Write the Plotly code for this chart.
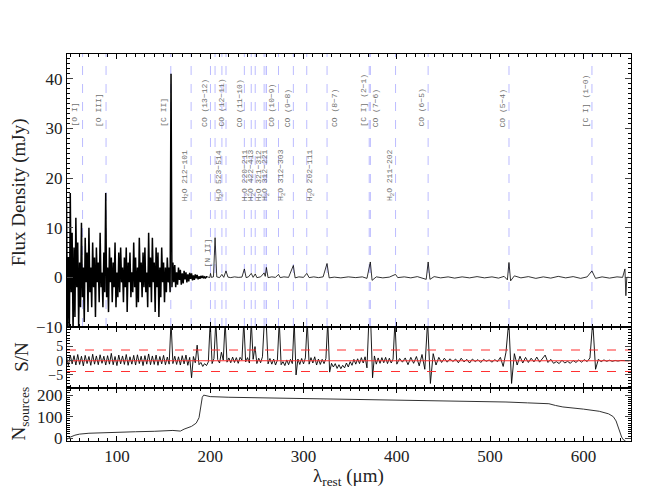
import numpy as np
import plotly.graph_objects as go
from plotly.subplots import make_subplots

# stacked spectrum: noisy short-wavelength part, sampled every 1 um from 46 um
noisy_start = 46
noisy_step = 1
flux_noisy = [
    15, -10, 4, -12, 17, -3, 9, -11, 6, -8,
    12, -2, 7, -10, 3, -6, 11, -4, 2, -9,
    8, -1, 5, -7, 10, -3, 2, -6, 7, -2,
    4, -8, 6, -1, 3, -5, 9, -2, 1, -6,
    5, -3, 17, -4, 2, -7, 6, -1, 4, -5,
    3, -2, 7, -6, 1, -4, 5, -3, 6, -1,
    2, -5, 4, -2, 6, -7, 3, -1, 5, -4,
    1, -3, 7, -2, 4, -6, 2, -5, 8, -1,
    3, -4, 5, -2, 6, -3, 1, -6, 9, -2,
    4, -5, 8, -1, 3, -7, 6, -2, 5, -8,
    2, -4, 6, -1, 3, -5, 2, -3, 4, -1,
    2, -3, 41, -2, 3, -1, 2.5, -2, 1, -1.5,
    2, -0.5, 1.5, -1.5, 0.8, -1.2, 1.3, -0.4, 1.0, -1.0,
    0.6, -0.8, 0.9, -0.3, 0.8, -0.6, 0.4, -0.5, 0.6, -0.2,
    0.5, -0.4, 0.2, -0.3, 0.3, -0.1, 0.3, -0.2, 0.1, -0.1,
    0.1,
]

# long-wavelength part (flat continuum with lines)
wl_flat = [197, 199.5, 200.3, 201.2, 203.5, 205.2, 207, 210, 212.5, 214.5,
           216.9, 219, 222, 226, 230, 234, 236.6, 238.5, 241, 244.0,
           246, 248.3, 250, 254, 257.8, 259.0, 260.2, 262, 266, 270,
           273.2, 275, 279, 284, 289.1, 291, 295, 300, 303.5, 306,
           311, 316, 321, 325.2, 327.5, 333, 340, 348, 356, 363,
           368, 370.4, 371.6, 373.5, 378, 385, 392, 398.6, 401, 408,
           415, 422, 428, 431.5, 433.6, 435.5, 440, 447, 455, 462,
           470, 478, 486, 494, 502, 509, 515, 518.5, 520.2, 522,
           526, 533, 541, 549, 557, 565, 573, 581, 589, 597,
           604, 609.1, 613, 620, 628, 636, 642, 644.5, 645.5, 646.5,
           649]
flux_flat = [0.1, -0.05, 0.8, 0.0, 0.1, 8.0, 0.1, -0.05, 0.6, 0.0,
             1.3, 0.05, -0.05, 0.1, 0.0, 0.05, 1.7, -0.05, 0.1, 0.8,
             0.0, 0.7, -0.05, 0.1, 0.9, 0.2, 2.0, -0.05, 0.1, 0.0,
             0.6, -0.05, 0.1, 0.0, 2.4, -0.1, 0.1, 0.0, 0.8, -0.05,
             0.1, -0.05, 0.1, 2.8, -0.1, 0.05, -0.1, 0.1, -0.05, 0.1,
             -0.2, 2.2, 3.1, -0.6, 0.1, -0.1, 0.05, 0.6, -0.05, 0.1,
             -0.1, 0.15, -0.1, -0.4, 3.1, -0.4, 0.15, -0.1, 0.1, -0.15,
             0.1, -0.1, 0.15, -0.1, 0.1, -0.15, 0.2, -0.5, 3.0, -0.7,
             0.3, -0.1, 0.15, -0.2, 0.1, -0.15, 0.2, -0.1, 0.15, -0.2,
             0.1, 1.3, -0.2, 0.1, -0.15, 0.1, 0.0, 1.7, -3.7, 0.0,
             0.0]

# S/N: every 2 um from 46 to 398, then every 3 um from 400 to 649
sn_a = [
    1.4, -1.7, 2.0, -1.1, 1.8, -1.5, 2.2, -1.3, 1.6, -1.8,
    1.9, -1.0, 1.5, -1.6, 2.3, -1.2, 1.7, -1.4, 2.1, -0.9,
    1.6, -1.5, 1.8, -1.2, 2.6, -1.4, 1.5, -1.7, 2.0, -1.1,
    1.7, -1.3, 2.2, -1.6, 1.4, -1.2, 1.9, -1.5, 2.1, -1.0,
    1.6, -1.7, 1.8, -1.2, 2.4, -1.4, 1.7, -1.3, 2.0, -1.6,
    1.5, -1.1, 1.9, -1.4, 1.3, -1.2, 14.0, -1.0, 1.6, -1.3,
    1.4, -1.5, 1.8, -1.1, 2.0, -1.6, 1.2, -6.0, 1.5, -0.7,
    5.5, -1.4, -0.6, -2.0, -1.0, -1.7, -0.4, 14.0, -1.0, 0.8,
    14.0, 0.4, -0.8, 3.0, 0.2, 14.0, -0.5, 1.0, -0.7, 1.3,
    -0.6, 1.1, -0.9, 1.2, 0.2, 14.0, -0.4, 1.1, -0.8, 14.0,
    0.5, 5.0, -1.0, 0.9, -0.7, 1.4, 14.0, 14.0, -1.1, 0.8,
    -1.2, 0.6, -1.5, 0.2, 14.0, -1.4, -0.3, -1.7, 0.3, -1.4,
    0.5, -1.0, 14.0, -5.0, 0.6, -1.3, 0.8, -1.1, 1.0, 14.0,
    -1.2, 1.1, -0.8, 1.4, -1.5, 0.6, -1.3, 0.5, -1.0, 0.8,
    14.0, -4.0, -0.9, -2.2, -1.0, -2.7, -1.4, -2.8, -1.6, -2.5,
    -0.8, -2.2, -0.3, -1.6, 0.5, -1.2, 0.7, -1.0, 1.1, -0.8,
    1.4, -2.5, 14.0, 14.0, -6.0, 1.7, -1.2, 1.0, -0.9, 1.1,
    -0.7, 1.2, -1.0, 0.9, -0.8, 0.6, 14.0,
]
sn_b = [
    -1.2, 0.8, -0.5, 1.0, -1.4, 1.2, -0.9, 1.5, -1.8, 2.2,
    -3.0, 14.0, -8.0, 2.5, -1.5, 1.2, -0.6, 0.9, -0.5, 0.7,
    -0.3, 0.6, -0.7, 0.9, -0.4, 0.5, -0.8, 0.6, -0.3, 0.4,
    -0.6, 0.5, -0.2, 0.3, -0.5, 0.4, -0.3, 1.2, -2.0, 3.0,
    14.0, -8.0, 2.5, -1.5, 1.6, -0.8, 1.2, -0.6, 0.9, -0.4,
    1.3, -0.5, 0.8, 2.0, -0.6, 0.5, -0.9, -0.3, -1.0, 0.2,
    -0.8, -0.2, -0.9, 0.1, -0.6, 0.3, -0.5, 0.4, -0.3, 1.0,
    14.0, -3.0, 0.5, -0.3, 0.3, -0.2, 0.2, -0.2, 0.1, -0.1,
    0.1, 0.0, 0.0, 0.0,
]
sn_cut = 3.8

# number of stacked sources
wl_nsrc = [46.5, 50, 55, 60, 70, 80, 100, 120, 140, 150, 160, 168, 172, 180, 185,
           188, 190, 191.5, 193, 196, 200, 220, 260, 300, 350, 400, 445, 480, 517,
           540, 563, 570, 578, 600, 617, 627, 632, 635, 637, 639, 641, 643, 645]
n_src = [-5, 5, 14, 19, 23, 25, 28, 30, 32, 35, 36, 33, 42, 55, 70,
         95, 140, 190, 200, 198, 193, 190, 187, 184, 181, 179, 176, 172, 168,
         164, 160, 152, 145, 135, 125, 113, 100, 80, 55, 25, 5, -8, -12]

# line identifications
line_wl = [63.18, 88.36, 157.74, 179.53, 200.27, 205.18, 212.53, 216.93, 236.61,
           243.97, 248.25, 257.79, 259.98, 260.24, 273.19, 289.12, 303.46, 325.23,
           370.42, 371.65, 398.64, 433.56, 520.23, 609.14]
line_names = ["[O I]", "[O III]", "[C II]", "H<sub>2</sub>O 212−101", "CO (13−12)", "[N II]",
              "H<sub>2</sub>O 523−514", "CO (12−11)", "CO (11−10)", "H<sub>2</sub>O 220−211",
              "H<sub>2</sub>O 422−413", "H<sub>2</sub>O 321−312", "H<sub>2</sub>O 312−221",
              "CO (10−9)", "H<sub>2</sub>O 312−303", "CO (9−8)", "H<sub>2</sub>O 202−111",
              "CO (8−7)", "[C I] (2−1)", "CO (7−6)", "H<sub>2</sub>O 211−202", "CO (6−5)",
              "CO (5−4)", "[C I] (1−0)"]
label_y = [29.9, 29.9, 29.9, 14.9, 29.9, 1.5, 14.9, 29.9, 29.9, 14.9, 14.9, 14.9, 14.9,
           29.9, 14.9, 29.9, 14.9, 29.9, 29.9, 29.9, 14.9, 29.9, 29.9, 29.9]
label_dx = [-8, -7, -7.5, -6, -5.5, -8, -2.5, -4.5, -4, -5.5, -3.5, -5, -0.5,
            5, 3, -5, 4, 8, -6, 6, -5, -6.5, -6.5, -6]

wl_noisy = noisy_start + noisy_step * np.arange(len(flux_noisy))
wl_sn = np.concatenate([46 + 2 * np.arange(len(sn_a)), 400 + 3 * np.arange(len(sn_b))])
sn = np.concatenate([sn_a, sn_b])

xr = [46.5, 651]
serif = "Liberation Serif"
ink = "#222222"

fig = make_subplots(rows=3, cols=1, shared_xaxes=True, vertical_spacing=0,
                    row_heights=[273, 61, 53])

for i, w in enumerate(line_wl):
    fig.add_shape(type="line", x0=w, x1=w, y0=-10, y1=45, xref="x", yref="y",
                  line=dict(color="#bcbcff", width=1, dash="dash"), layer="below")
    fig.add_annotation(x=w, y=label_y[i], xref="x", yref="y", text=line_names[i],
                       textangle=-90, showarrow=False, xanchor="center", yanchor="bottom",
                       xshift=label_dx[i],
                       font=dict(family="Liberation Mono", size=8, color="#707070"))

# spectrum: noisy part heavier so it reads as a filled band
fig.add_trace(go.Scatter(x=np.append(wl_noisy, wl_flat[0]),
                         y=np.append(flux_noisy, flux_flat[0]), mode="lines",
                         line=dict(color="black", width=1.5)), row=1, col=1)
fig.add_trace(go.Scatter(x=wl_flat, y=flux_flat, mode="lines",
                         line=dict(color="black", width=0.8)), row=1, col=1)

fig.add_trace(go.Scatter(x=wl_sn, y=sn, mode="lines",
                         line=dict(color="black", width=0.9)), row=2, col=1)
for yv, dash in [(0, "solid"), (sn_cut, "dash"), (-sn_cut, "dash")]:
    fig.add_trace(go.Scatter(x=xr, y=[yv, yv], mode="lines",
                             line=dict(color="#ff3030", width=1.1, dash=dash)), row=2, col=1)

fig.add_trace(go.Scatter(x=wl_nsrc, y=n_src, mode="lines",
                         line=dict(color="#333333", width=1)), row=3, col=1)

axis_style = dict(showline=True, linecolor="black", linewidth=1, mirror="allticks",
                  ticks="inside", showgrid=False, zeroline=False)
tick17 = dict(family=serif, size=17, color=ink)

for r in (1, 2, 3):
    fig.update_xaxes(range=xr, dtick=100, ticklen=5, tickcolor="black", tickfont=tick17,
                     minor=dict(ticks="inside", dtick=10, ticklen=3, tickcolor="black"),
                     showticklabels=(r == 3), ticklabelstandoff=0, row=r, col=1, **axis_style)

fig.update_yaxes(range=[-10, 45], dtick=10, ticklen=6, tickfont=tick17,
                 minor=dict(ticks="inside", dtick=1, ticklen=3, tickcolor="black"),
                 row=1, col=1, **axis_style)
fig.update_yaxes(range=[-9.6, 11.9], tickvals=[-5, 0, 5], ticklen=6,
                 tickfont=dict(family=serif, size=14, color=ink),
                 minor=dict(ticks="inside", dtick=1, ticklen=3, tickcolor="black"),
                 row=2, col=1, **axis_style)
fig.update_yaxes(range=[-13, 233], tickvals=[0, 100, 200], ticklen=6, tickfont=tick17,
                 minor=dict(ticks="inside", dtick=10, ticklen=3, tickcolor="black"),
                 row=3, col=1, **axis_style)

# axis titles (plot area is 564 x 387 px)
fig.add_annotation(text="Flux Density (mJy)", xref="paper", yref="paper", x=-0.086, y=0.644,
                   xanchor="center", yanchor="middle", textangle=-90, showarrow=False,
                   font=dict(family=serif, size=19, color=ink))
fig.add_annotation(text="S/N", xref="paper", yref="paper", x=-0.082, y=0.217,
                   xanchor="center", yanchor="middle", textangle=-90, showarrow=False,
                   font=dict(family=serif, size=19, color=ink))
fig.add_annotation(text="N<sub>sources</sub>", xref="paper", yref="paper", x=-0.084, y=0.07,
                   xanchor="center", yanchor="middle", textangle=-90, showarrow=False,
                   font=dict(family=serif, size=19, color=ink))
fig.add_annotation(text="λ<sub>rest</sub> (μm)", xref="paper", yref="paper", x=0.499, y=-0.093,
                   xanchor="center", yanchor="middle", showarrow=False,
                   font=dict(family=serif, size=19, color=ink))

# page body adds an 8 px offset, so margins are shifted to compensate
fig.update_layout(width=665, height=490, showlegend=False,
                  font=dict(family=serif, color=ink),
                  margin=dict(l=59, r=42, t=46, b=57),
                  paper_bgcolor="white", plot_bgcolor="white")

fig.write_html("out.html")
